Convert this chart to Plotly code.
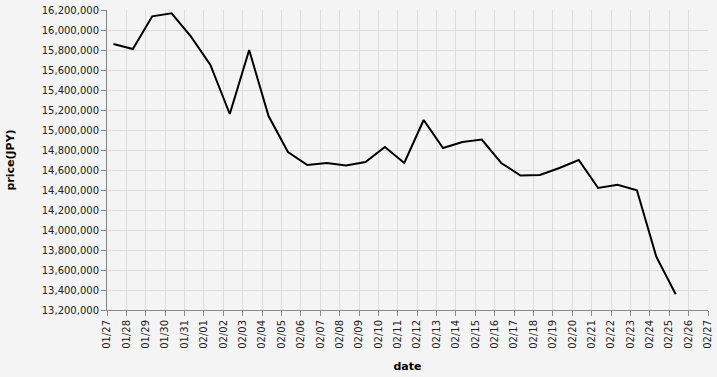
import plotly.graph_objects as go
import pandas as pd

dates = pd.date_range("2025-01-27 08:00", periods=30, freq="D").strftime("%Y-%m-%d %H:%M").tolist()
prices = [15860000, 15810000, 16137000, 16167000, 15933000, 15650000, 15160000, 15800000,
          15140000, 14780000, 14650000, 14670000, 14645000, 14680000, 14830000, 14670000,
          15100000, 14820000, 14880000, 14905000, 14670000, 14545000, 14550000, 14620000,
          14700000, 14420000, 14453000, 14397000, 13733000, 13357000]
y_ticks = list(range(13200000, 16200001, 200000))
x_range = ["2025-01-27", "2025-02-27"]

fig = go.Figure(go.Scatter(x=dates, y=prices, mode="lines",
                           line=dict(color="black", width=2), hoverinfo="skip"))

axis_common = dict(showgrid=True, gridcolor="#dddddd", gridwidth=1,
                   showline=True, linecolor="#888888", linewidth=1,
                   ticks="outside", ticklen=5, tickcolor="#888888", tickwidth=1,
                   tickfont=dict(family="DejaVu Sans", size=10, color="#222222"),
                   zeroline=False)

fig.update_layout(
    width=717, height=377,
    margin=dict(l=107, r=9, t=10, b=67),
    paper_bgcolor="#f4f4f4", plot_bgcolor="#f4f4f4",
    showlegend=False,
    xaxis=dict(type="date", range=x_range, dtick=86400000, tick0="2025-01-27",
               tickformat="%m/%d", tickangle=-90,
               title=dict(text="<b>date</b>", font=dict(family="DejaVu Sans", size=11, color="#000"),
                          standoff=14),
               automargin=False, **axis_common),
    yaxis=dict(range=[13200000, 16200000], tickvals=y_ticks, tickformat=",",
               title=dict(text="<b>price(JPY)</b>", font=dict(family="DejaVu Sans", size=11, color="#000"),
                          standoff=24),
               automargin=False, **axis_common),
)

fig.write_html("out.html")
